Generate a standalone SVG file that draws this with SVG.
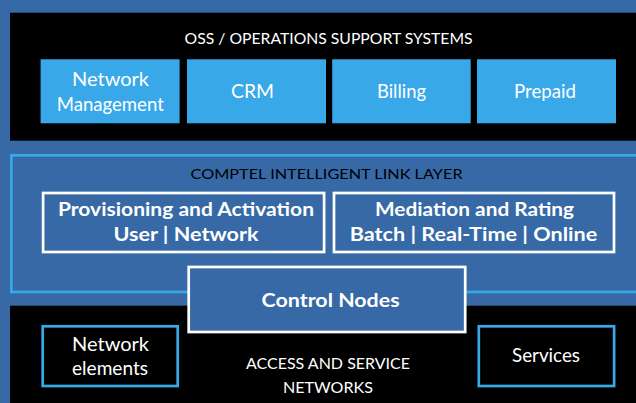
<svg xmlns="http://www.w3.org/2000/svg" width="636" height="403" viewBox="0 0 636 403">
<style>
text{font-family:Lato,"Open Sans","Liberation Sans",sans-serif;text-anchor:middle;fill:#fff}
.cap{font-size:15px}
.lbl{font-size:20px}
.bold{font-size:18px;font-weight:bold}
.oss{fill:#39a8e8}
.wbox{fill:#3669a6;stroke:#fff;stroke-width:2.7}
.lbox{fill:#000;stroke:#39a8e8;stroke-width:2.7}
</style>
<rect x="0" y="0" width="636" height="403" fill="#3669a6"/>
<g id="oss-layer">
<rect x="10" y="12.7" width="630" height="128" fill="#000"/>
<text class="cap" x="328.6" y="44" textLength="288" lengthAdjust="spacingAndGlyphs">OSS / OPERATIONS SUPPORT SYSTEMS</text>
</g>
<g id="network-management">
<rect class="oss" x="40.6" y="59.3" width="139" height="64"/>
<text class="lbl" x="110.5" y="86" textLength="77" lengthAdjust="spacingAndGlyphs">Network</text>
<text class="lbl" x="110.3" y="110.5" textLength="107" lengthAdjust="spacingAndGlyphs">Management</text>
</g>
<g id="crm">
<rect class="oss" x="187" y="59.3" width="139" height="64"/>
<text class="lbl" x="252.5" y="98.3" textLength="43" lengthAdjust="spacingAndGlyphs">CRM</text>
</g>
<g id="billing">
<rect class="oss" x="332.2" y="59.3" width="138.5" height="64"/>
<text class="lbl" x="401.5" y="98.3" textLength="49" lengthAdjust="spacingAndGlyphs">Billing</text>
</g>
<g id="prepaid">
<rect class="oss" x="477" y="59.3" width="139" height="64"/>
<text class="lbl" x="545" y="98.3" textLength="62" lengthAdjust="spacingAndGlyphs">Prepaid</text>
</g>
<g id="link-layer">
<rect x="11.35" y="155.35" width="640" height="136.6" fill="#3669a6" stroke="#39a8e8" stroke-width="2.7"/>
<text x="326.6" y="179" style="font-size:14px;fill:#000" textLength="272" lengthAdjust="spacingAndGlyphs">COMPTEL INTELLIGENT LINK LAYER</text>
</g>
<g id="access-layer">
<rect x="10" y="305.7" width="630" height="100" fill="#000"/>
<text class="cap" x="328" y="369.2" textLength="164" lengthAdjust="spacingAndGlyphs">ACCESS AND SERVICE</text>
<text class="cap" x="328" y="393.3" textLength="90" lengthAdjust="spacingAndGlyphs">NETWORKS</text>
</g>
<g id="provisioning">
<rect class="wbox" x="43.1" y="193" width="281" height="59"/>
<text class="bold" x="186" y="216" textLength="256" lengthAdjust="spacingAndGlyphs">Provisioning and Activation</text>
<text class="bold" x="186" y="240.5" textLength="145" lengthAdjust="spacingAndGlyphs">User | Network</text>
</g>
<g id="mediation">
<rect class="wbox" x="334" y="193" width="280" height="59"/>
<text class="bold" x="474.5" y="216" textLength="199" lengthAdjust="spacingAndGlyphs">Mediation and Rating</text>
<text class="bold" x="473.5" y="240.5" textLength="247.5" lengthAdjust="spacingAndGlyphs">Batch | Real-Time | Online</text>
</g>
<g id="control-nodes">
<rect class="wbox" x="188.7" y="267" width="276.5" height="65"/>
<text class="bold" x="330.6" y="306.5" style="font-size:19px" textLength="138" lengthAdjust="spacingAndGlyphs">Control Nodes</text>
</g>
<g id="network-elements">
<rect class="lbox" x="42.7" y="326.3" width="135" height="59.7"/>
<text class="lbl" x="110.5" y="350.7" textLength="77" lengthAdjust="spacingAndGlyphs">Network</text>
<text class="lbl" x="110" y="375" textLength="76" lengthAdjust="spacingAndGlyphs">elements</text>
</g>
<g id="services">
<rect class="lbox" x="478.8" y="326.3" width="135.3" height="59.7"/>
<text class="lbl" x="546" y="362" textLength="68" lengthAdjust="spacingAndGlyphs">Services</text>
</g>
<g id="connectors"></g>
</svg>
